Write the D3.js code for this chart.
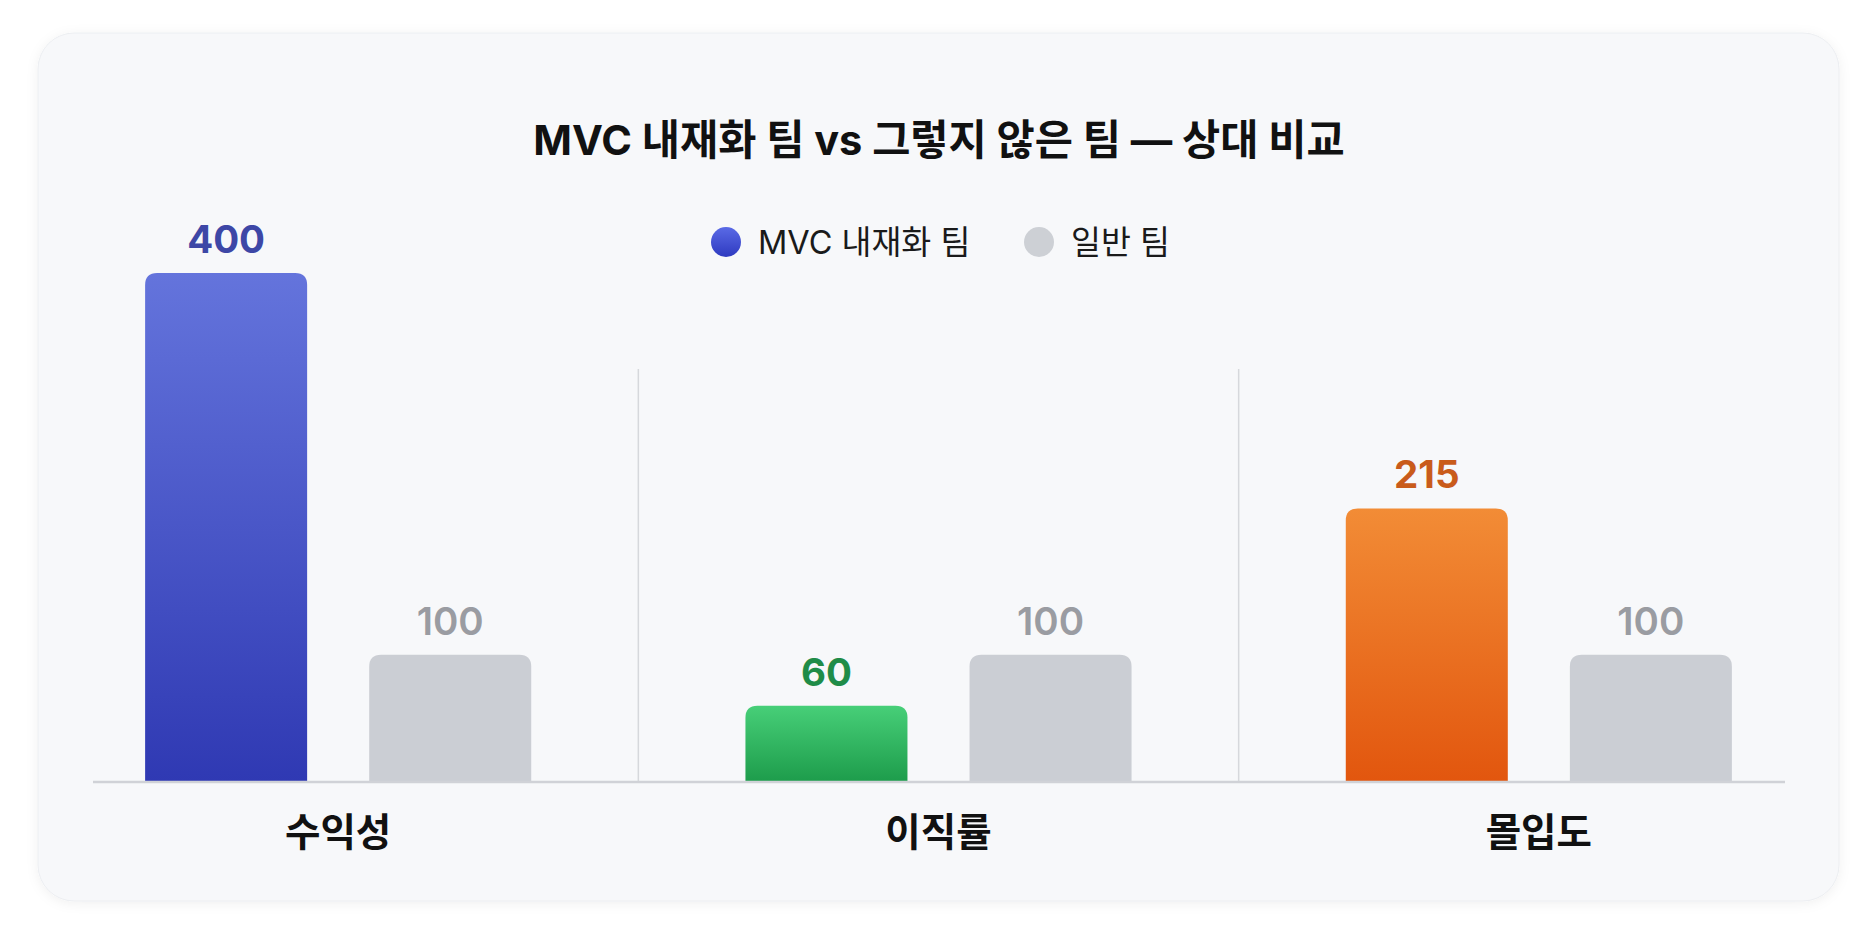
<!DOCTYPE html>
<html>
<head>
<meta charset="utf-8">
<script src="https://cdn.jsdelivr.net/npm/d3@7"></script>
<style>
  html, body { margin: 0; padding: 0; background: #ffffff; }
  svg { display: block; }
  text { font-family: Inter, 'Noto Sans CJK KR', sans-serif; }
</style>
</head>
<body>
<svg id="chart" width="1866" height="931"></svg>
<script>
const title = 'MVC 내재화 팀 vs 그렇지 않은 팀 — 상대 비교'
const categories = ['수익성', '이직률', '몰입도']
const seriesNames = ['MVC 내재화 팀', '일반 팀']
const mvcValues = [400, 60, 215]
const baseValues = [100, 100, 100]

const width = 1866
const height = 931
const card = { x: 38, y: 33, w: 1801, h: 868 }
const plot = { top: 273, bottom: 782, left: 93, right: 1785 }

// colours per category for the MVC bars: [top, bottom, label]
const mvcColors = [
    ['#6474dc', '#2f39b3', '#3d47a6'],
    ['#47cf78', '#1d9c4b', '#1f8c48'],
    ['#f28c36', '#e2560e', '#c95b1b']
]
const grayBar = '#cbced4'
const grayLabel = '#9a9ca2'

const data = categories.map((c, i) => ({
    category: c,
    idx: i,
    values: [
        { key: seriesNames[0], value: mvcValues[i], s: 0 },
        { key: seriesNames[1], value: baseValues[i], s: 1 }
    ]
}))

const svg = d3.select('#chart')
const defs = svg.append('defs')

const shadow = defs.append('filter').attr('id', 'shadow')
    .attr('x', '-5%').attr('y', '-5%').attr('width', '110%').attr('height', '115%')
shadow.append('feDropShadow')
    .attr('dx', 0).attr('dy', 2).attr('stdDeviation', 6)
    .attr('flood-color', '#000').attr('flood-opacity', 0.06)

mvcColors.forEach((c, i) => {
    const g = defs.append('linearGradient').attr('id', 'grad' + i)
        .attr('x1', 0).attr('y1', 0).attr('x2', 0).attr('y2', 1)
    g.append('stop').attr('offset', '0%').attr('stop-color', c[0])
    g.append('stop').attr('offset', '100%').attr('stop-color', c[1])
})
const legGrad = defs.append('linearGradient').attr('id', 'legGrad')
    .attr('x1', 0).attr('y1', 0).attr('x2', 0).attr('y2', 1)
legGrad.append('stop').attr('offset', '0%').attr('stop-color', '#5a6ae6')
legGrad.append('stop').attr('offset', '100%').attr('stop-color', '#2e3ac0')

svg.append('rect')
    .attr('x', card.x).attr('y', card.y)
    .attr('width', card.w).attr('height', card.h)
    .attr('rx', 36)
    .attr('fill', '#f7f8fa')
    .attr('stroke', '#eceef1')
    .attr('filter', 'url(#shadow)')

svg.append('text')
    .attr('x', 939).attr('y', 155)
    .attr('text-anchor', 'middle')
    .attr('font-size', 41.5)
    .attr('font-weight', 700)
    .attr('fill', '#111111')
    .text(title)

// legend
const legend = svg.append('g')
const legItems = [
    { name: seriesNames[0], cx: 726, fill: 'url(#legGrad)' },
    { name: seriesNames[1], cx: 1039, fill: '#cdd0d5' }
]
legItems.forEach(d => {
    legend.append('circle').attr('cx', d.cx).attr('cy', 242).attr('r', 15).attr('fill', d.fill)
    legend.append('text')
        .attr('x', d.cx + 32).attr('y', 254)
        .attr('font-size', 32.5)
        .attr('fill', '#1a1a1a')
        .text(d.name)
})

const x0 = d3.scaleBand()
    .domain(categories)
    .range([card.x, card.x + card.w])
    .padding(0)

const x1 = d3.scaleBand()
    .domain(seriesNames)
    .range([0, x0.bandwidth()])
    .paddingInner(0.277)
    .paddingOuter(0.478)

const y = d3.scaleLinear()
    .domain([0, 400])
    .range([plot.bottom, plot.top])

// dividers between groups
svg.append('g')
    .selectAll('line')
    .data(categories.slice(1))
    .join('line')
    .attr('x1', d => x0(d)).attr('x2', d => x0(d))
    .attr('y1', 369).attr('y2', plot.bottom)
    .attr('stroke', '#d6d8dc')
    .attr('stroke-width', 1.5)

function topRounded(x, yTop, w, h, r) {
    r = Math.min(r, h, w / 2)
    return `M${x},${yTop + h}V${yTop + r}Q${x},${yTop} ${x + r},${yTop}H${x + w - r}Q${x + w},${yTop} ${x + w},${yTop + r}V${yTop + h}Z`
}

const groups = svg.append('g')
    .selectAll('g')
    .data(data)
    .join('g')
    .attr('transform', d => `translate(${x0(d.category)},0)`)

groups.selectAll('path')
    .data(d => d.values.map(v => ({ ...v, idx: d.idx })))
    .join('path')
    .attr('d', d => topRounded(x1(d.key), y(d.value), x1.bandwidth(), y(0) - y(d.value), 12))
    .attr('fill', d => d.s === 0 ? `url(#grad${d.idx})` : grayBar)

groups.selectAll('.label-text')
    .data(d => d.values.map(v => ({ ...v, idx: d.idx })))
    .join('text')
    .attr('class', 'label-text')
    .attr('x', d => x1(d.key) + x1.bandwidth() / 2)
    .attr('y', d => y(d.value) - 20)
    .attr('text-anchor', 'middle')
    .attr('font-size', 38.5)
    .attr('font-weight', d => d.s === 0 ? 700 : 600)
    .attr('fill', d => d.s === 0 ? mvcColors[d.idx][2] : grayLabel)
    .text(d => d.value)

// baseline
svg.append('line')
    .attr('x1', plot.left).attr('x2', plot.right)
    .attr('y1', plot.bottom).attr('y2', plot.bottom)
    .attr('stroke', '#d0d2d7')
    .attr('stroke-width', 2.5)

groups.append('text')
    .attr('x', x0.bandwidth() / 2)
    .attr('y', 846)
    .attr('text-anchor', 'middle')
    .attr('font-size', 38.5)
    .attr('font-weight', 700)
    .attr('fill', '#111111')
    .text(d => d.category)
</script>
</body>
</html>
